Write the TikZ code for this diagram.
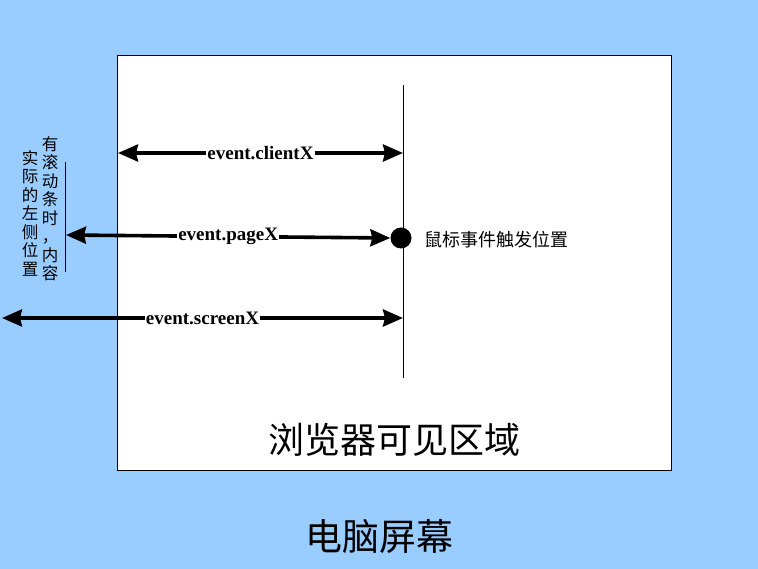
\documentclass[tikz,border=0pt]{standalone}
\usepackage{fontspec}
\setmainfont{Liberation Serif}
\newfontfamily\cjk{Noto Sans CJK SC}
\usetikzlibrary{arrows.meta}
\definecolor{bg}{HTML}{99CCFF}
\tikzset{
  tip/.tip={Stealth[length=20pt,width=17pt,inset=2pt]},
  arr/.style={line width=3.6pt,tip-tip},
  lbl/.style={fill=white,inner sep=1pt,font=\bfseries\fontsize{19}{19}\selectfont},
  vtxt/.style={align=center,inner sep=0pt,font=\cjk\fontsize{16.5}{18.5}\selectfont}
}
\begin{document}
\begin{tikzpicture}[x=1pt,y=-1pt]
\fill[bg] (0,0) rectangle (758,569);
\useasboundingbox (0,0) rectangle (758,569);
\node[draw=black,fill=white,line width=0.8pt,minimum width=554pt,minimum height=415pt,inner sep=0pt,anchor=north west] (screen) at (117,55) {};
\coordinate (vtop) at (403,85);
\coordinate (vbot) at (403,378);
\draw[line width=1pt] (vtop) -- (vbot);
\node[circle,fill=black,minimum size=21pt,inner sep=0pt] (dot) at (401,238) {};
\coordinate (cL) at (118,153); \coordinate (cR) at (403,153);
\draw[arr] (cL) -- node[lbl] (lc) {event.clientX} (cR);
\coordinate (pL) at (66,235);
\draw[arr] (pL) -- node[lbl,pos=0.5] (lp) {event.pageX} (dot.west);
\coordinate (sL) at (2,318); \coordinate (sR) at (403,318);
\draw[arr] (sL) -- node[lbl,pos=0.5] (ls) {event.screenX} (sR);
\coordinate (lt) at (65,162); \coordinate (lb) at (65,272);
\draw[line width=0.6pt] (lt) -- (lb);
\node[vtxt,anchor=north] (col1) at (50,136) {有\\滚\\动\\条\\时\\，\\内\\容};
\node[vtxt,anchor=north] (col2) at (30,150) {实\\际\\的\\左\\侧\\位\\置};
\node[anchor=west,inner sep=0pt,font=\cjk\fontsize{18}{18}\selectfont] (evt) at (424,240) {鼠标事件触发位置};
\node[font=\cjk\fontsize{36}{36}\selectfont] (area) at (394,440) {浏览器可见区域};
\node[font=\cjk\fontsize{37}{37}\selectfont] (pc) at (379,537) {电脑屏幕};
\end{tikzpicture}
\end{document}
